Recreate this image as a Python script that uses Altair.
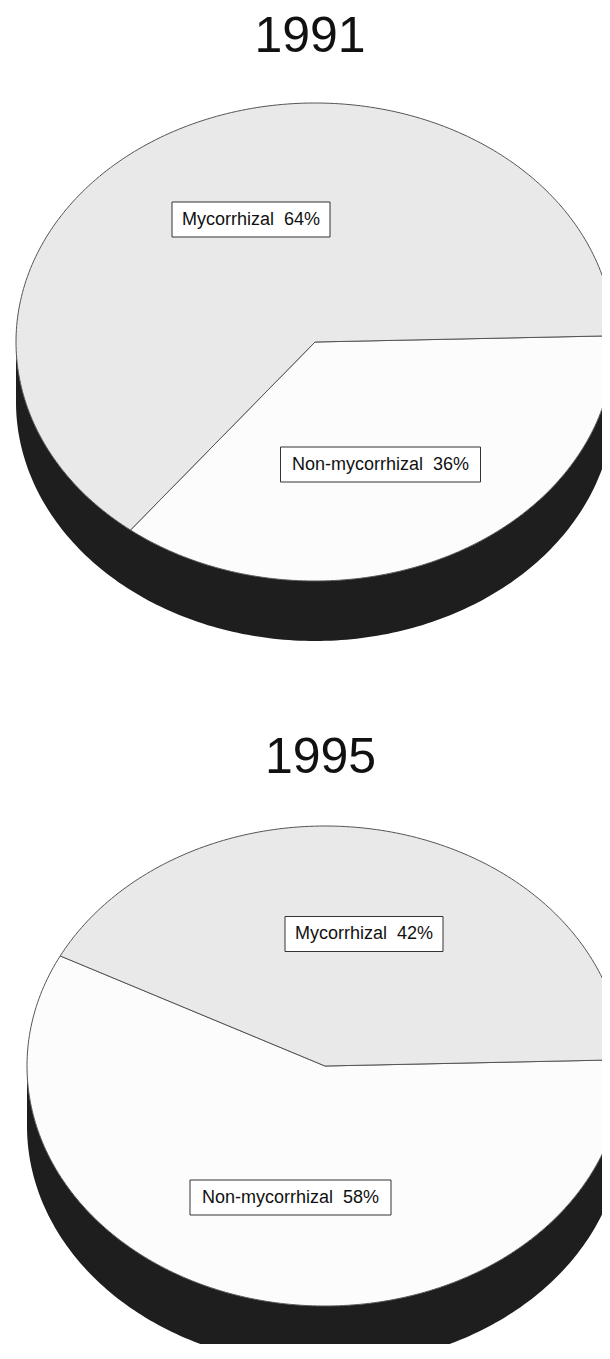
import numpy as np
import pandas as pd
import altair as alt

# ---------------- data ----------------
years = ["1991", "1995"]
categories = ["Non-mycorrhizal", "Mycorrhizal"]
values_1991 = [36, 64]
values_1995 = [58, 42]

# ---------------- layout (page pixels) ----------------
W, H = 594, 1336
X0, Y0 = 8, 8
CX = {"1991": 315, "1995": 325}
CY = {"1991": 342, "1995": 1066}
RX = {"1991": 299, "1995": 298}
RY = {"1991": 239, "1995": 240}
DEPTH = 60
START = -1.5  # degrees, clockwise from east
TITLE_POS = {"1991": (310, 52), "1995": (320.5, 773)}
LABEL_POS = {
    ("1991", "Mycorrhizal"): (251, 219.5, 158),
    ("1991", "Non-mycorrhizal"): (380.5, 464.5, 200),
    ("1995", "Mycorrhizal"): (364, 934, 158),
    ("1995", "Non-mycorrhizal"): (290.5, 1197.5, 201),
}
BOX_H = 35

vals = {"1991": values_1991, "1995": values_1995}

# slice polygons
slice_rows = []
for yr in years:
    a = START
    for cat, v in zip(categories, vals[yr]):
        a1 = a + v / 100 * 360
        ts = np.linspace(a, a1, int(abs(a1 - a)) + 2)
        key = f"{yr}-{cat}"
        i = 0
        slice_rows.append(dict(key=key, cat=cat, i=i, x=CX[yr], y=CY[yr]))
        for t in ts:
            i += 1
            r = np.radians(t)
            slice_rows.append(dict(key=key, cat=cat, i=i,
                                   x=CX[yr] + RX[yr] * np.cos(r),
                                   y=CY[yr] + RY[yr] * np.sin(r)))
        i += 1
        slice_rows.append(dict(key=key, cat=cat, i=i, x=CX[yr], y=CY[yr]))
        a = a1
slices = pd.DataFrame(slice_rows)

# side band (front half)
side_rows = []
for yr in years:
    for t in np.linspace(0, 180, 181):
        r = np.radians(t)
        y = CY[yr] + RY[yr] * np.sin(r)
        side_rows.append(dict(pie=yr, x=CX[yr] + RX[yr] * np.cos(r), y=y, y2=y + DEPTH))
side = pd.DataFrame(side_rows)

# labels
lab_rows = []
for yr in years:
    for cat, v in zip(categories, vals[yr]):
        lx, ly, bw = LABEL_POS[(yr, cat)]
        lab_rows.append(dict(text=f"{cat}\u00a0 {v}%", x=lx, y=ly,
                             bx=lx - bw / 2, bx2=lx + bw / 2,
                             by=ly - BOX_H / 2, by2=ly + BOX_H / 2))
labels = pd.DataFrame(lab_rows)

titles = pd.DataFrame([dict(text=yr, x=TITLE_POS[yr][0], y=TITLE_POS[yr][1]) for yr in years])

xs = alt.Scale(domain=[X0, X0 + W], nice=False, zero=False)
ys = alt.Scale(domain=[Y0, Y0 + H], nice=False, zero=False, reverse=True)

def X(f):
    return alt.X(f, type="quantitative", scale=xs, axis=None)

def Y(f):
    return alt.Y(f, type="quantitative", scale=ys, axis=None)

side_layer = alt.Chart(side).mark_area(color="#1e1e1e", clip=True).encode(
    x=X("x"), y=Y("y"), y2="y2", detail="pie:N"
)

slice_layer = alt.Chart(slices).mark_line(
    stroke="#555555", strokeWidth=1, clip=True
).encode(
    x=X("x"), y=Y("y"),
    fill=alt.Fill("cat:N", scale=alt.Scale(domain=categories, range=["#fcfcfc", "#e9e9e9"]), legend=None),
    detail="key:N",
    order="i:Q",
)

box_layer = alt.Chart(labels).mark_rect(
    fill="#ffffff", stroke="#333333", strokeWidth=1
).encode(x=X("bx"), x2="bx2", y=Y("by"), y2="by2")

text_layer = alt.Chart(labels).mark_text(
    font="Liberation Sans", fontSize=18, color="#111111", align="center", baseline="middle"
).encode(x=X("x"), y=Y("y"), text="text:N")

title_layer = alt.Chart(titles).mark_text(
    font="Liberation Sans", fontSize=50, color="#111111", align="center", baseline="alphabetic"
).encode(x=X("x"), y=Y("y"), text="text:N")

chart = alt.layer(side_layer, slice_layer, box_layer, text_layer, title_layer).properties(
    width=W, height=H, padding=0, autosize="none"
).configure_view(stroke=None)

chart.save("out.html", embed_options={"renderer": "svg", "actions": False})
